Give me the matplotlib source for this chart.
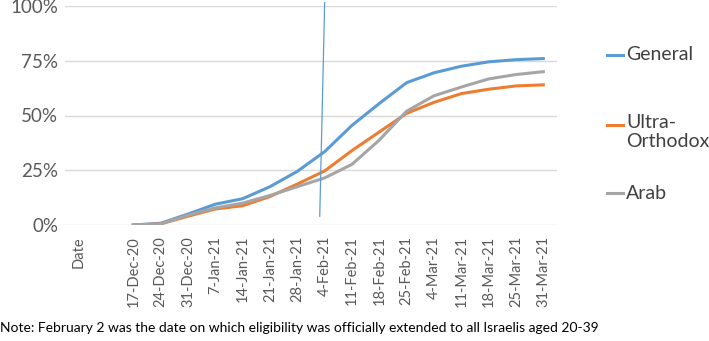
import matplotlib
matplotlib.use("Agg")
import matplotlib.pyplot as plt
from matplotlib.lines import Line2D

plt.rcParams['font.family'] = ['Lato', 'DejaVu Sans']

# categories on the x axis (Excel style: "Date" header and an empty slot first)
categories = ['Date', '', '17-Dec-20', '24-Dec-20', '31-Dec-20', '7-Jan-21', '14-Jan-21',
              '21-Jan-21', '28-Jan-21', '4-Feb-21', '11-Feb-21', '18-Feb-21', '25-Feb-21',
              '4-Mar-21', '11-Mar-21', '18-Mar-21', '25-Mar-21', '31-Mar-21']
dates = categories[2:]

# share vaccinated (fraction)
general = [0.0, 0.008, 0.05, 0.095, 0.12, 0.175, 0.245, 0.335, 0.455, 0.555, 0.65,
           0.695, 0.725, 0.745, 0.755, 0.76]
ultra_orthodox = [0.0, 0.005, 0.04, 0.073, 0.088, 0.13, 0.187, 0.247, 0.34, 0.425, 0.51,
                  0.56, 0.60, 0.62, 0.635, 0.64]
arab = [0.0, 0.005, 0.045, 0.078, 0.10, 0.135, 0.175, 0.215, 0.277, 0.388, 0.52,
        0.59, 0.63, 0.667, 0.687, 0.70]

series = [('General', general, '#5B9BD5'),
          ('Ultra-\nOrthodox', ultra_orthodox, '#ED7D31'),
          ('Arab', arab, '#A5A5A5')]

# marker line for 2 February (extension of eligibility)
feb2_top = (9.0, 1.015)
feb2_bottom = (8.82, 0.04)

fig = plt.figure(figsize=(7.09, 3.41), dpi=100)
ax = fig.add_axes([65 / 709, 1 - 225 / 341, (557 - 65) / 709, (225 - 6) / 341])

xpos = list(range(2, len(categories)))
for name, vals, col in series:
    ax.plot(xpos, vals, color=col, lw=2.2, solid_joinstyle='round')

ax.plot([feb2_top[0], feb2_bottom[0]], [feb2_top[1], feb2_bottom[1]],
        color='#5B9BD5', lw=0.9, clip_on=False)

ax.set_xlim(-0.5, len(categories) - 0.5)
ax.set_ylim(0, 1)
ax.set_xticks(range(len(categories)))
ax.set_xticklabels(categories, rotation=90, fontsize=10.5, color='#595959')
ax.set_yticks([0, 0.25, 0.5, 0.75, 1.0])
ax.set_yticklabels(['0%', '25%', '50%', '75%', '100%'], fontsize=13.5, color='#595959')
ax.tick_params(length=0, pad=5)
ax.tick_params(axis='x', pad=8)
for s in ax.spines.values():
    s.set_visible(False)
ax.grid(axis='y', color='#D9D9D9', lw=1)
ax.set_axisbelow(True)

# legend at the right
leg_y = [55, 125, 193]
for (name, vals, col), y in zip(series, leg_y):
    yf = 1 - y / 341
    fig.add_artist(Line2D([607 / 709, 623 / 709], [yf, yf], color=col, lw=2.2))
    if '\n' in name:
        fig.text(626 / 709, 1 - (y - 11) / 341, name, fontsize=14, color='#404040',
                 va='top', linespacing=1.15)
    else:
        fig.text(626 / 709, yf, name, fontsize=14, color='#404040', va='center')

fig.text(0.0, 1 - 328 / 341,
         'Note: February 2 was the date on which eligibility was officially extended to all Israelis aged 20-39',
         fontsize=10, color='black', va='center', ha='left')

fig.savefig('out.png', dpi=100)
